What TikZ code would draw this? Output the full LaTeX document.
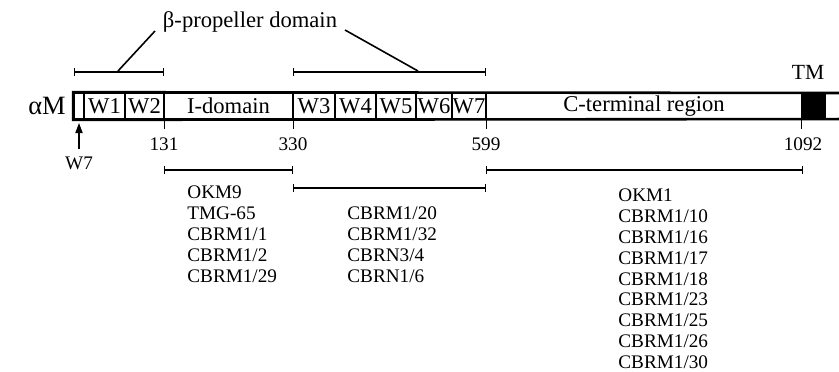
\documentclass[tikz,border=0pt]{standalone}
\usepackage{fontspec}
\setmainfont{Liberation Serif}
\usetikzlibrary{arrows.meta}
\begin{document}
\begin{tikzpicture}[x=0.5pt,y=-0.5pt,
  seg/.style={draw,line width=0.8pt,minimum height=13pt,inner sep=0pt,font=\fontsize{11.3}{12}\selectfont},
  lab/.style={inner sep=0pt,font=\fontsize{9.6}{11}\selectfont},
  big/.style={inner sep=0pt,font=\fontsize{11.3}{12}\selectfont},
  abl/.style={inner sep=0pt,anchor=base west,font=\fontsize{9.6}{11}\selectfont},
  rng/.style={line width=0.6pt,{Bar[width=4pt]}-{Bar[width=4pt]}},
  tick/.style={line width=0.6pt},
  ptr/.style={line width=0.8pt}]
\path[use as bounding box,fill=white] (0,0) rectangle (839,371);
\begin{scope}
\clip (0,0) rectangle (839,371);
% bar segments
\node[seg,minimum width=5pt] (s0) at (79,106) {};
\node[seg,minimum width=20.5pt] (w1) at (104.5,106) {W1};
\node[seg,minimum width=19.5pt] (w2) at (144.5,106) {W2};
\node[seg,minimum width=64.5pt] (idom) at (228.5,106) {I-domain};
\node[seg,minimum width=21pt] (w3) at (314,106) {W3};
\node[seg,minimum width=20.5pt] (w4) at (355.5,106) {W4};
\node[seg,minimum width=20pt] (w5) at (396,106) {W5};
\node[seg,minimum width=18pt] (w6) at (434,106) {W6};
\node[seg,minimum width=17pt] (w7) at (469,106) {W7};
\node[seg,minimum width=158pt] (cterm) at (644,106) {C-terminal region};
\node[seg,minimum width=11.5pt,fill=black] (tm) at (813.5,106) {};
\coordinate (barR1) at (880,93);
\coordinate (barR2) at (880,119);
\draw[line width=1.3pt] (barR1) -- (s0.north west) -- (s0.south west) -- (barR2);
\end{scope}
% ticks below the bar
\draw[tick] (w2.south east) -- ++(0,9);
\draw[tick] (idom.south east) -- ++(0,9);
\draw[tick] (w7.south east) -- ++(0,9);
\draw[tick] (tm.south west) -- ++(0,9);
\node[lab] (n131) at (164,144) {131};
\node[lab] (n330) at (293,144) {330};
\node[lab] (n599) at (486,144) {599};
\node[lab] (n1092) at (803,144) {1092};
% W7 arrow
\node[lab] (w7lab) at (79,163) {W7};
\coordinate (arrS) at (79,149);
\coordinate (arrE) at (79,123);
\draw[line width=0.6pt,-{Triangle[length=5pt,width=3.6pt]}] (arrS) -- (arrE);
% labels
\node[inner sep=0pt,font=\fontsize{13.2}{14}\selectfont] (am) at (47,106) {αM};
\node[inner sep=0pt,font=\fontsize{10.8}{12}\selectfont] (tmlab) at (808,72) {TM};
\node[big] (beta) at (250,22) {β-propeller domain};
% upper range bars
\coordinate (u1a) at (74,72);
\coordinate (u1b) at (164,72);
\coordinate (u2a) at (293,72);
\coordinate (u2b) at (486,72);
\draw[rng] (u1a) -- (u1b);
\draw[rng] (u2a) -- (u2b);
\coordinate (b1s) at (155,31);
\coordinate (b1e) at (118,71);
\coordinate (b2s) at (345,30);
\coordinate (b2e) at (418,71);
\draw[ptr] (b1s) -- (b1e);
\draw[ptr] (b2s) -- (b2e);
% lower range bars
\coordinate (r1a) at (164,170);
\coordinate (r1b) at (293,170);
\coordinate (r2a) at (293,188);
\coordinate (r2b) at (486,188);
\coordinate (r3a) at (486,170);
\coordinate (r3b) at (803,170);
\draw[rng] (r1a) -- (r1b);
\draw[rng] (r2a) -- (r2b);
\draw[rng] (r3a) -- (r3b);
% antibody lists
\foreach \t [count=\i] in {OKM9,TMG-65,CBRM1/1,CBRM1/2,CBRM1/29}
  \node[abl] (a\i) at (187,{198.4+20.9*(\i-1)}) {\t};
\foreach \t [count=\i] in {CBRM1/20,CBRM1/32,CBRN3/4,CBRN1/6}
  \node[abl] (b\i) at (347,{219.4+21*(\i-1)}) {\t};
\foreach \t [count=\i] in {OKM1,CBRM1/10,CBRM1/16,CBRM1/17,CBRM1/18,CBRM1/23,CBRM1/25,CBRM1/26,CBRM1/30}
  \node[abl] (c\i) at (618,{201.4+20.9*(\i-1)}) {\t};
\end{tikzpicture}
\end{document}
